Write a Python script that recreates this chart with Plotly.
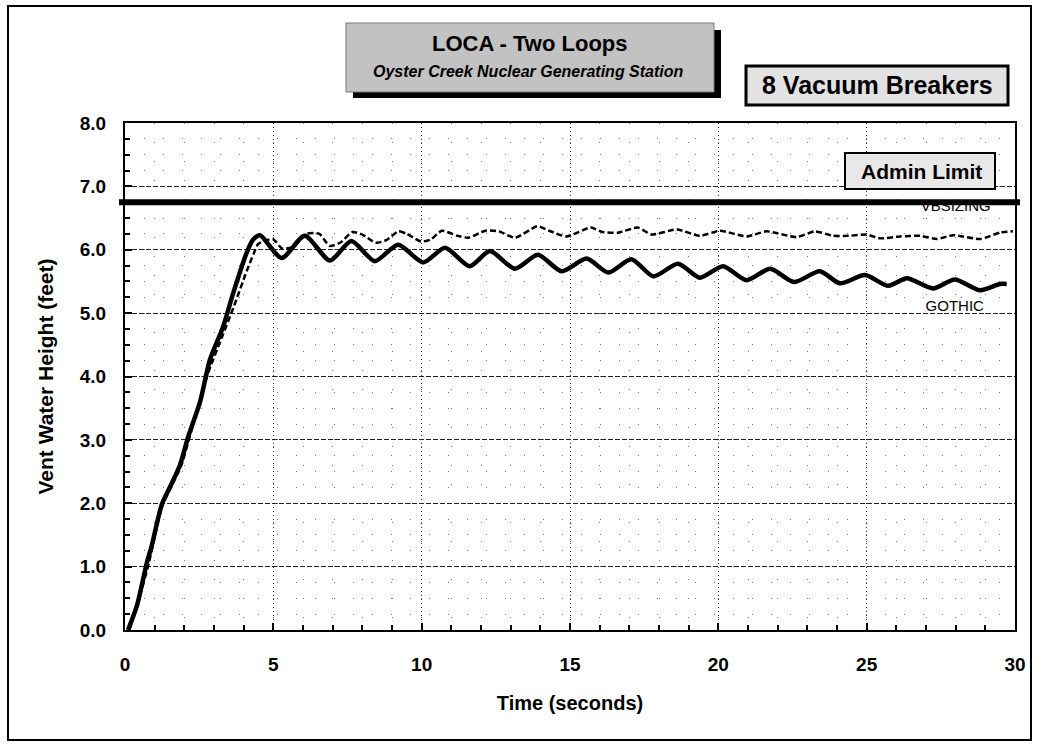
import plotly.graph_objects as go

# ---------------- data ----------------
gothic_t = [0.1, 0.4, 0.73, 0.9, 1.24, 1.52, 1.85, 2.13, 2.53, 2.86, 3.31, 3.65, 4.1, 4.32, 4.55,
            5.28, 6.06, 6.91, 7.63, 8.42, 9.21, 10.05, 10.79, 11.62, 12.3, 13.14, 13.92, 14.72,
            15.56, 16.29, 17.07, 17.81, 18.64, 19.38, 20.16, 20.95, 21.75, 22.55, 23.42, 24.1,
            24.94, 25.73, 26.35, 27.24, 27.97, 28.82, 29.49, 29.72]
gothic_h = [0.0, 0.38, 1.05, 1.33, 1.98, 2.26, 2.6, 3.05, 3.6, 4.26, 4.79, 5.32, 5.95, 6.16, 6.23,
            5.87, 6.22, 5.83, 6.14, 5.82, 6.08, 5.80, 6.03, 5.74, 5.98, 5.70, 5.92, 5.66,
            5.86, 5.64, 5.85, 5.58, 5.78, 5.56, 5.74, 5.52, 5.70, 5.49, 5.66, 5.47,
            5.60, 5.43, 5.55, 5.39, 5.53, 5.36, 5.46, 5.46]

vbs_t = [0.15, 0.45, 0.8, 1.25, 1.6, 1.9, 2.3, 2.8, 3.25, 3.65, 4.1, 4.33, 4.49, 4.98, 5.3, 5.7,
         6.1, 6.55, 6.9, 7.25, 7.67, 8.0, 8.45, 8.8, 9.22, 9.5, 9.98, 10.3, 10.68, 11.2, 11.58,
         12.15, 12.6, 13.15, 13.9, 14.3, 14.88, 15.7, 16.1, 16.62, 17.28, 17.75, 18.6, 19.38,
         20.05, 20.96, 21.63, 22.64, 23.26, 23.87, 24.4, 25.0, 25.45, 26.12, 26.8, 27.36,
         27.92, 28.82, 29.49, 29.93]
vbs_h = [0.0, 0.45, 1.05, 1.95, 2.3, 2.6, 3.25, 4.05, 4.6, 5.08, 5.66, 5.93, 6.09, 6.17, 6.02, 6.05,
         6.25, 6.25, 6.06, 6.11, 6.28, 6.24, 6.11, 6.15, 6.29, 6.25, 6.13, 6.16, 6.30, 6.22, 6.19,
         6.30, 6.29, 6.19, 6.37, 6.30, 6.21, 6.35, 6.28, 6.27, 6.35, 6.24, 6.32, 6.22,
         6.30, 6.21, 6.29, 6.20, 6.29, 6.22, 6.22, 6.24, 6.18, 6.21, 6.22, 6.17,
         6.23, 6.17, 6.27, 6.29]

admin_limit = 6.75
x_ticks = [0, 5, 10, 15, 20, 25, 30]
y_ticks = [0, 1, 2, 3, 4, 5, 6, 7, 8]

# ---------------- layout helpers ----------------
W, H = 1042, 747
ML, MR, MT, MB = 125, 27, 123, 117
PW, PH = W - ML - MR, H - MT - MB


def px(x):
    return (x - ML) / PW


def py(y):
    return (H - MB - y) / PH


FONT = "Liberation Sans, Arial, Helvetica, sans-serif"

fig = go.Figure()

fig.add_trace(go.Scatter(x=vbs_t, y=vbs_h, mode="lines", name="VBSIZING",
                         line=dict(color="black", width=2.5, dash="6px,3px", shape="spline", smoothing=0.6),
                         showlegend=False))
fig.add_trace(go.Scatter(x=gothic_t, y=gothic_h, mode="lines", name="GOTHIC",
                         line=dict(color="black", width=4.5, shape="spline", smoothing=0.7),
                         showlegend=False))
# series labels (as text traces so the admin line can overlap VBSIZING)
fig.add_trace(go.Scatter(x=[28.0], y=[6.665], mode="text", text=["VBSIZING"],
                         textfont=dict(family=FONT, size=15, color="black"), showlegend=False,
                         hoverinfo="skip"))
fig.add_trace(go.Scatter(x=[27.97], y=[5.09], mode="text", text=["GOTHIC"],
                         textfont=dict(family=FONT, size=15, color="black"), showlegend=False,
                         hoverinfo="skip"))

shapes = []
# outer frame
shapes.append(dict(type="rect", xref="paper", yref="paper", x0=px(8), x1=px(1031), y0=py(740), y1=py(6),
                   line=dict(color="black", width=2), fillcolor="rgba(0,0,0,0)", layer="below"))
# title box shadow + box
shapes.append(dict(type="rect", xref="paper", yref="paper", x0=px(353), x1=px(721), y0=py(98), y1=py(30),
                   line=dict(width=0), fillcolor="black", layer="below"))
shapes.append(dict(type="rect", xref="paper", yref="paper", x0=px(346), x1=px(714), y0=py(92), y1=py(23),
                   line=dict(color="#777", width=1), fillcolor="#c2c2c2", layer="below"))
# 8 vacuum breakers box
shapes.append(dict(type="rect", xref="paper", yref="paper", x0=px(746), x1=px(1008), y0=py(105), y1=py(66),
                   line=dict(color="black", width=3), fillcolor="#e2e2e2", layer="below"))
# admin limit box
shapes.append(dict(type="rect", xref="paper", yref="paper", x0=px(845), x1=px(995), y0=py(189), y1=py(153),
                   line=dict(color="black", width=2), fillcolor="#e8e8e8", layer="above"))
# admin limit line
shapes.append(dict(type="line", xref="paper", yref="y", x0=px(119), x1=px(1020), y0=admin_limit, y1=admin_limit,
                   line=dict(color="black", width=6), layer="above"))

annotations = [
    dict(text="<b>LOCA - Two Loops</b>", xref="paper", yref="paper", x=px(530), y=py(43),
         showarrow=False, font=dict(family=FONT, size=22, color="black"), xanchor="center", yanchor="middle"),
    dict(text="<b><i>Oyster Creek Nuclear Generating Station</i></b>", xref="paper", yref="paper",
         x=px(528), y=py(72), showarrow=False, font=dict(family=FONT, size=16, color="black"),
         xanchor="center", yanchor="middle"),
    dict(text="<b>8 Vacuum Breakers</b>", xref="paper", yref="paper", x=px(877), y=py(85),
         showarrow=False, font=dict(family=FONT, size=25, color="black"), xanchor="center", yanchor="middle"),
    dict(text="<b>Admin Limit</b>", xref="paper", yref="paper", x=px(921), y=py(171),
         showarrow=False, font=dict(family=FONT, size=21, color="black"), xanchor="center", yanchor="middle"),
]

fig.update_layout(
    width=W, height=H,
    margin=dict(l=ML, r=MR, t=MT, b=MB),
    paper_bgcolor="white", plot_bgcolor="white",
    shapes=shapes, annotations=annotations,
    font=dict(family=FONT, color="black"),
    showlegend=False,
)

fig.update_xaxes(
    range=[0, 30], tickvals=x_ticks, ticktext=[f"<b>{v}</b>" for v in x_ticks],
    tickfont=dict(family=FONT, size=19, color="black"),
    ticks="inside", ticklen=7, tickwidth=1.5, tickcolor="black",
    ticklabelstandoff=16,
    showline=True, linecolor="black", linewidth=2, mirror=True,
    showgrid=True, gridcolor="#333", gridwidth=1, griddash="1px,3px",
    minor=dict(dtick=1, ticks="inside", ticklen=5, tickcolor="black", showgrid=True,
               gridcolor="#777", griddash="1px,18px", gridwidth=1),
    zeroline=False,
    title=dict(text="<b>Time (seconds)</b>", font=dict(family=FONT, size=20, color="black"), standoff=22),
)
fig.update_yaxes(
    range=[0, 8], tickvals=y_ticks, ticktext=[f"<b>{v:.1f}</b>" for v in y_ticks],
    tickfont=dict(family=FONT, size=19, color="black"),
    ticks="inside", ticklen=7, tickwidth=1.5, tickcolor="black",
    ticklabelstandoff=13,
    showline=True, linecolor="black", linewidth=2, mirror=True,
    showgrid=True, gridcolor="#222", gridwidth=1, griddash="5px,2px",
    minor=dict(dtick=0.25, ticks="inside", ticklen=5, tickcolor="black", showgrid=True,
               gridcolor="#777", griddash="1px,18px", gridwidth=1),
    zeroline=False,
    title=dict(text="<b>Vent Water Height (feet)</b>", font=dict(family=FONT, size=21, color="black"), standoff=20),
)

fig.write_html("out.html")
